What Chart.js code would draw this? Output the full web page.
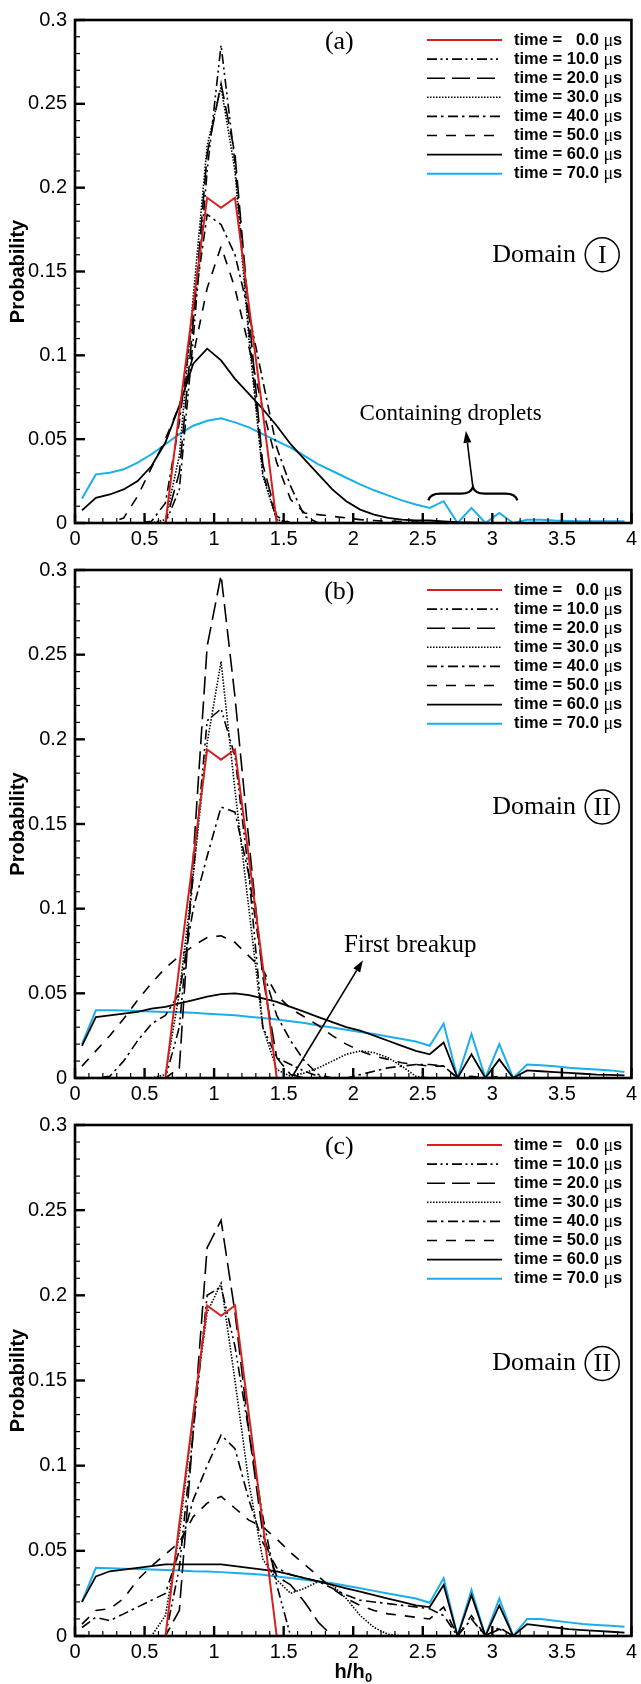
<!DOCTYPE html>
<html>
<head>
<meta charset="utf-8">
<script src="https://cdn.jsdelivr.net/npm/chart.js@4.4.0/dist/chart.umd.min.js"></script>
<style>
  html, body { margin: 0; padding: 0; background: #fff; }
  #wrap { position: relative; width: 641px; height: 1684px; }
  canvas { position: absolute; left: 0; }
</style>
</head>
<body>
<div id="wrap">
  <canvas id="chartA" width="641" height="550" style="top:0px"></canvas>
  <canvas id="chartB" width="641" height="555" style="top:550px"></canvas>
  <canvas id="chartC" width="641" height="579" style="top:1105px"></canvas>
</div>
<script>
// bin centres of h/h0
const hBins = [
  0.05, 0.15, 0.25, 0.35, 0.45, 0.55, 0.65, 0.75, 0.85, 0.95,
  1.05, 1.15, 1.25, 1.35, 1.45, 1.55, 1.65, 1.75, 1.85, 1.95,
  2.05, 2.15, 2.25, 2.35, 2.45, 2.55, 2.65, 2.75, 2.85, 2.95,
  3.05, 3.15, 3.25, 3.35, 3.45, 3.55, 3.65, 3.75, 3.85, 3.95
];
const timeLabels = ["0.0", "10.0", "20.0", "30.0", "40.0", "50.0", "60.0", "70.0"];

// time = 0 (same initial distribution in every domain)
const initialPdf = [
  0, 0, 0, 0, 0, 0, 0, 0.066, 0.13, 0.194,
  0.188, 0.194, 0.13, 0.066, 0, 0, 0, 0, 0, 0,
  0, 0, 0, 0, 0, 0, 0, 0, 0, 0,
  0, 0, 0, 0, 0, 0, 0, 0, 0, 0
];

// ---- (a) Domain I ----
const a10 = [
  0, 0, 0, 0, 0, 0, 0, 0.02, 0.11, 0.21,
  0.285, 0.215, 0.115, 0.03, 0.002, 0, 0, 0, 0, 0,
  0, 0, 0, 0, 0, 0, 0, 0, 0, 0,
  0, 0, 0, 0, 0, 0, 0, 0, 0, 0
];
const a20 = [
  0, 0, 0, 0, 0, 0, 0, 0.03, 0.12, 0.22,
  0.262, 0.22, 0.125, 0.035, 0.004, 0, 0, 0, 0, 0,
  0, 0, 0, 0, 0, 0, 0, 0, 0, 0,
  0, 0, 0, 0, 0, 0, 0, 0, 0, 0
];
const a30 = [
  0, 0, 0, 0, 0, 0, 0.002, 0.04, 0.135, 0.225,
  0.26, 0.21, 0.11, 0.028, 0.002, 0, 0, 0, 0, 0,
  0, 0, 0, 0, 0, 0, 0, 0, 0, 0,
  0, 0, 0, 0, 0, 0, 0, 0, 0, 0
];
const a40 = [
  0, 0, 0, 0, 0, 0.001, 0.012, 0.06, 0.125, 0.184,
  0.178, 0.16, 0.125, 0.085, 0.045, 0.022, 0.004, 0, 0, 0,
  0, 0, 0, 0, 0, 0, 0, 0, 0, 0,
  0, 0, 0, 0, 0, 0, 0, 0, 0, 0
];
const a50 = [
  0, 0, 0, 0.003, 0.016, 0.033, 0.05, 0.07, 0.1, 0.14,
  0.165, 0.14, 0.105, 0.068, 0.036, 0.014, 0.006, 0.005, 0.004, 0.003,
  0.002, 0.0015, 0.001, 0.0008, 0.0005, 0.0003, 0, 0, 0, 0,
  0, 0, 0, 0, 0, 0, 0, 0, 0, 0
];
const a60 = [
  0.0075, 0.015, 0.017, 0.02, 0.025, 0.034, 0.048, 0.07, 0.095, 0.104,
  0.097, 0.086, 0.077, 0.068, 0.058, 0.047, 0.038, 0.029, 0.02, 0.013,
  0.008, 0.005, 0.003, 0.002, 0.0015, 0.0015, 0.001, 0.0005, 0.0003, 0,
  0, 0, 0, 0, 0, 0, 0, 0, 0, 0
];
const a70 = [
  0.0146, 0.029, 0.03, 0.032, 0.036, 0.041, 0.047, 0.053, 0.058, 0.061,
  0.0625, 0.06, 0.057, 0.053, 0.049, 0.045, 0.04, 0.035, 0.031, 0.027,
  0.023, 0.0195, 0.0165, 0.0135, 0.011, 0.009, 0.013, 0, 0.009, 0,
  0.006, 0, 0.002, 0.002, 0.0015, 0.0012, 0.001, 0.001, 0.001, 0.001
];

// ---- (b) Domain II ----
const b10 = [
  0, 0, 0, 0, 0, 0, 0, 0.03, 0.12, 0.211,
  0.218, 0.19, 0.12, 0.03, 0.012, 0.008, 0.004, 0.001, 0, 0,
  0, 0, 0, 0, 0, 0, 0, 0, 0, 0,
  0, 0, 0, 0, 0, 0, 0, 0, 0, 0
];
const b20 = [
  0, 0, 0, 0, 0, 0, 0, 0.006, 0.13, 0.255,
  0.297, 0.225, 0.14, 0.06, 0.012, 0.002, 0, 0, 0, 0,
  0, 0, 0, 0, 0, 0, 0, 0, 0, 0,
  0, 0, 0, 0, 0, 0, 0, 0, 0, 0
];
const b30 = [
  0, 0, 0, 0, 0, 0, 0.002, 0.05, 0.12, 0.198,
  0.246, 0.17, 0.1, 0.03, 0.005, 0.001, 0.003, 0.006, 0.01, 0.014,
  0.016, 0.015, 0.012, 0.007, 0.001, 0, 0, 0, 0, 0,
  0, 0, 0, 0, 0, 0, 0, 0, 0, 0
];
const b40 = [
  0, 0, 0.001, 0.01, 0.022, 0.032, 0.037, 0.05, 0.1, 0.131,
  0.16, 0.157, 0.12, 0.064, 0.037, 0.022, 0.01, 0.002, 0, 0,
  0.002, 0.004, 0.006, 0.007, 0.008, 0.008, 0.007, 0, 0, 0,
  0, 0, 0, 0, 0, 0, 0, 0, 0, 0
];
const b50 = [
  0.007, 0.016, 0.025, 0.035, 0.046, 0.056, 0.065, 0.072, 0.078, 0.083,
  0.084, 0.08, 0.072, 0.064, 0.049, 0.041, 0.036, 0.031, 0.025, 0.02,
  0.016, 0.013, 0.011, 0.009, 0.008, 0.007, 0.007, 0, 0.001, 0,
  0.001, 0, 0, 0, 0, 0, 0, 0, 0, 0
];
const b60 = [
  0.019, 0.036, 0.037, 0.038, 0.039, 0.041, 0.042, 0.044, 0.046, 0.048,
  0.0495, 0.05, 0.049, 0.047, 0.045, 0.042, 0.039, 0.036, 0.033, 0.03,
  0.028, 0.025, 0.022, 0.019, 0.016, 0.014, 0.021, 0, 0.014, 0,
  0.011, 0, 0.0045, 0.004, 0.0035, 0.003, 0.0025, 0.002, 0.0018, 0.0015
];
const b70 = [
  0.02, 0.04, 0.04, 0.0398, 0.0395, 0.0393, 0.039, 0.0388, 0.0385, 0.038,
  0.0375, 0.037, 0.0362, 0.0355, 0.0345, 0.0335, 0.0325, 0.031, 0.0298, 0.0285,
  0.0272, 0.026, 0.0245, 0.023, 0.0215, 0.019, 0.032, 0, 0.026, 0,
  0.02, 0, 0.008, 0.0075, 0.007, 0.006, 0.0055, 0.005, 0.0045, 0.0036
];

// ---- (c) Domain II ----
const c10 = [
  0, 0, 0, 0, 0, 0, 0, 0.04, 0.12, 0.2,
  0.205, 0.17, 0.12, 0.07, 0.03, 0, 0, 0, 0, 0,
  0, 0, 0, 0, 0, 0, 0, 0, 0, 0,
  0, 0, 0, 0, 0, 0, 0, 0, 0, 0
];
const c20 = [
  0, 0, 0, 0, 0, 0, 0, 0.015, 0.12, 0.228,
  0.244, 0.19, 0.12, 0.06, 0.035, 0.03, 0.02, 0.008, 0, 0,
  0, 0, 0, 0, 0, 0, 0, 0, 0, 0,
  0, 0, 0, 0, 0, 0, 0, 0, 0, 0
];
const c30 = [
  0, 0, 0, 0, 0, 0, 0.012, 0.06, 0.13, 0.19,
  0.207, 0.15, 0.09, 0.045, 0.033, 0.025, 0.028, 0.032, 0.03, 0.022,
  0.012, 0.005, 0.001, 0, 0, 0, 0, 0, 0, 0,
  0, 0, 0, 0, 0, 0, 0, 0, 0, 0
];
const c40 = [
  0.005, 0.011, 0.009, 0.013, 0.017, 0.021, 0.025, 0.05, 0.08, 0.1,
  0.118, 0.11, 0.08, 0.055, 0.04, 0.036, 0.034, 0.032, 0.028, 0.024,
  0.021, 0.02, 0.019, 0.018, 0.017, 0.016, 0.012, 0, 0.01, 0,
  0.005, 0, 0, 0, 0, 0, 0, 0, 0, 0
];
const c50 = [
  0.007, 0.015, 0.016, 0.022, 0.033, 0.041, 0.048, 0.055, 0.07, 0.078,
  0.082, 0.075, 0.068, 0.064, 0.057, 0.049, 0.042, 0.035, 0.028, 0.022,
  0.018, 0.015, 0.013, 0.012, 0.011, 0.01, 0.017, 0, 0.012, 0,
  0.004, 0, 0, 0, 0, 0, 0, 0, 0, 0
];
const c60 = [
  0.02, 0.035, 0.038, 0.039, 0.04, 0.041, 0.042, 0.042, 0.042, 0.042,
  0.042, 0.041, 0.04, 0.039, 0.038, 0.036, 0.034, 0.032, 0.03, 0.028,
  0.026, 0.024, 0.022, 0.02, 0.018, 0.017, 0.03, 0, 0.024, 0,
  0.018, 0, 0.007, 0.006, 0.005, 0.004, 0.0035, 0.003, 0.0025, 0.002
];
const c70 = [
  0.02, 0.04, 0.0398, 0.0395, 0.0393, 0.039, 0.0388, 0.0385, 0.038, 0.0378,
  0.0375, 0.037, 0.0365, 0.036, 0.035, 0.034, 0.033, 0.032, 0.031, 0.0295,
  0.028, 0.0265, 0.025, 0.0235, 0.022, 0.0195, 0.034, 0, 0.027, 0,
  0.022, 0, 0.01, 0.01, 0.009, 0.008, 0.007, 0.0065, 0.006, 0.0055
];

const SANS = "'Liberation Sans', Arial, Helvetica, sans-serif";
const SERIF = "'Liberation Serif', 'Times New Roman', serif";
const RED = "#d61f1f";
const BLUE = "#1aaeea";

const lineStyles = [
  { color: RED, dash: [], width: 2 },
  { color: "#000", dash: [10, 3.5, 2, 3.5, 2, 4], width: 1.6 },
  { color: "#000", dash: [18, 7], width: 1.6 },
  { color: "#000", dash: [1.5, 1.5], width: 1.6 },
  { color: "#000", dash: [10, 4, 2.5, 4.5], width: 1.6 },
  { color: "#000", dash: [10, 9], width: 1.6 },
  { color: "#000", dash: [], width: 1.8 },
  { color: BLUE, dash: [], width: 2 }
];

Chart.defaults.font.family = SANS;
Chart.defaults.color = "#000";

function strokeLine(ctx, x0, y0, x1, y1, w) {
  ctx.lineWidth = w;
  ctx.beginPath();
  ctx.moveTo(x0, y0);
  ctx.lineTo(x1, y1);
  ctx.stroke();
}

function drawArrow(ctx, x0, y0, x1, y1) {
  const ang = Math.atan2(y1 - y0, x1 - x0);
  const len = 12, half = 4;
  const bx = x1 - len * Math.cos(ang), by = y1 - len * Math.sin(ang);
  strokeLine(ctx, x0, y0, bx, by, 1.6);
  ctx.beginPath();
  ctx.moveTo(x1, y1);
  ctx.lineTo(bx + half * Math.sin(ang), by - half * Math.cos(ang));
  ctx.lineTo(bx - half * Math.sin(ang), by + half * Math.cos(ang));
  ctx.closePath();
  ctx.fill();
}

// frame, inward ticks, legend and notes
const plotDecor = {
  id: "plotDecor",
  afterDatasetsDraw(chart, args, opts) {
    const { ctx, chartArea: a, scales: { x, y } } = chart;
    ctx.save();
    ctx.strokeStyle = "#000";
    ctx.fillStyle = "#000";
    ctx.setLineDash([]);

    // ticks
    const xt = x.ticks.map(t => t.value);
    xt.forEach((v, i) => {
      const px = x.getPixelForValue(v);
      strokeLine(ctx, px, a.bottom, px, a.bottom - 10, 2.4);
      if (i < xt.length - 1) {
        for (let k = 1; k < 5; k++) {
          const pm = x.getPixelForValue(v + (xt[i + 1] - v) * k / 5);
          strokeLine(ctx, pm, a.bottom, pm, a.bottom - 5, 1.2);
        }
      }
    });
    const yt = y.ticks.map(t => t.value);
    yt.forEach((v, i) => {
      const py = y.getPixelForValue(v);
      strokeLine(ctx, a.left, py, a.left + 10, py, 2.4);
      if (i < yt.length - 1) {
        for (let k = 1; k < 5; k++) {
          const pm = y.getPixelForValue(v + (yt[i + 1] - v) * k / 5);
          strokeLine(ctx, a.left, pm, a.left + 5, pm, 1.2);
        }
      }
    });

    // frame
    ctx.lineWidth = 2.6;
    ctx.strokeRect(a.left, a.top, a.right - a.left, a.bottom - a.top);

    // legend
    const lx0 = a.left + 352, lx1 = a.left + 427, tx = a.left + 439;
    const bold = `bold 16.5px ${SANS}`;
    ctx.font = bold;
    const numRight = tx + ctx.measureText("time = 10.0").width;
    const sp = ctx.measureText(" ").width;
    ctx.textBaseline = "middle";
    chart.data.datasets.forEach((ds, i) => {
      const yy = a.top + 20 + i * 19.1;
      ctx.save();
      ctx.strokeStyle = ds.borderColor;
      ctx.setLineDash(ds.borderDash);
      strokeLine(ctx, lx0, yy, lx1, yy, ds.borderWidth);
      ctx.restore();
      ctx.font = bold;
      ctx.textAlign = "left";
      ctx.fillText("time =", tx, yy);
      ctx.textAlign = "right";
      ctx.fillText(timeLabels[i], numRight, yy);
      ctx.textAlign = "left";
      ctx.font = `18px ${SERIF}`;
      ctx.fillText("\u03bc", numRight + sp, yy + 1);
      const mu = ctx.measureText("\u03bc").width;
      ctx.font = bold;
      ctx.fillText("s", numRight + sp + mu, yy);
    });

    // panel tag
    ctx.font = `26px ${SERIF}`;
    ctx.textAlign = "center";
    ctx.fillText(opts.tag, x.getPixelForValue(1.9), y.getPixelForValue(0.287));

    // Domain label with circled numeral
    const dy = y.getPixelForValue(0.16);
    ctx.textAlign = "left";
    ctx.fillText("Domain", x.getPixelForValue(3.0), dy);
    const cx = x.getPixelForValue(3.79);
    ctx.textAlign = "center";
    ctx.fillText(opts.numeral, cx, dy + 1);
    ctx.lineWidth = 1.5;
    ctx.beginPath();
    ctx.arc(cx, dy, 17, 0, Math.PI * 2);
    ctx.stroke();

    if (opts.note === "droplets") {
      ctx.font = `23px ${SERIF}`;
      ctx.fillText("Containing droplets", x.getPixelForValue(2.7), y.getPixelForValue(0.065));
      const xL = x.getPixelForValue(2.54), xR = x.getPixelForValue(3.18), xm = x.getPixelForValue(2.86);
      const yTip = y.getPixelForValue(0.0215), yFlat = y.getPixelForValue(0.0175), yEnd = y.getPixelForValue(0.0135);
      ctx.lineWidth = 2.2;
      ctx.beginPath();
      ctx.moveTo(xL, yEnd);
      ctx.quadraticCurveTo(xL + 2, yFlat, xL + 12, yFlat);
      ctx.lineTo(xm - 12, yFlat);
      ctx.quadraticCurveTo(xm - 2, yFlat, xm, yTip);
      ctx.quadraticCurveTo(xm + 2, yFlat, xm + 12, yFlat);
      ctx.lineTo(xR - 12, yFlat);
      ctx.quadraticCurveTo(xR - 2, yFlat, xR, yEnd);
      ctx.stroke();
      drawArrow(ctx, xm, yTip, x.getPixelForValue(2.81), y.getPixelForValue(0.055));
    }
    if (opts.note === "breakup") {
      ctx.font = `25px ${SERIF}`;
      ctx.fillText("First breakup", x.getPixelForValue(2.41), y.getPixelForValue(0.078));
      drawArrow(ctx, x.getPixelForValue(1.566), y.getPixelForValue(0.0015),
        x.getPixelForValue(2.07), y.getPixelForValue(0.0696));
    }

    if (opts.xTitle) {
      const mid = (a.left + a.right) / 2;
      const base = a.bottom + 42;
      ctx.textAlign = "left";
      ctx.textBaseline = "alphabetic";
      ctx.font = `bold 20px ${SANS}`;
      const w1 = ctx.measureText("h/h").width;
      ctx.font = `bold 13px ${SANS}`;
      const w2 = ctx.measureText("0").width;
      const start = mid - (w1 + w2) / 2;
      ctx.font = `bold 20px ${SANS}`;
      ctx.fillText("h/h", start, base);
      ctx.font = `bold 13px ${SANS}`;
      ctx.fillText("0", start + w1 + 0.5, base + 4);
    }
    ctx.restore();
  }
};

function makePanel(id, series, padTop, xAxisH, decor) {
  new Chart(document.getElementById(id), {
    type: "line",
    data: {
      datasets: series.map((vals, i) => ({
        label: "time = " + timeLabels[i] + " \u03bcs",
        data: hBins.map((h, k) => ({ x: h, y: vals[k] })),
        borderColor: lineStyles[i].color,
        borderDash: lineStyles[i].dash,
        borderWidth: lineStyles[i].width,
        pointRadius: 0,
        tension: 0,
        fill: false
      }))
    },
    options: {
      responsive: false,
      animation: false,
      layout: { padding: { top: padTop, right: 6, left: 0, bottom: 0 } },
      plugins: {
        legend: { display: false },
        tooltip: { enabled: false },
        plotDecor: decor
      },
      scales: {
        x: {
          type: "linear",
          min: 0,
          max: 4,
          afterFit: s => { s.height = xAxisH; },
          grid: { display: false, drawTicks: false },
          border: { display: false },
          ticks: {
            stepSize: 0.5,
            padding: 4,
            maxRotation: 0,
            autoSkip: false,
            font: { size: 20 },
            callback: v => String(v)
          }
        },
        y: {
          min: 0,
          max: 0.3,
          afterFit: s => { s.width = 75; },
          grid: { display: false, drawTicks: false },
          border: { display: false },
          ticks: {
            stepSize: 0.05,
            padding: 8,
            font: { size: 20 },
            callback: v => String(+v.toFixed(2))
          },
          title: {
            display: true,
            text: "Probability",
            font: { size: 20, weight: "bold" },
            padding: { top: 6, bottom: 0 }
          }
        }
      }
    },
    plugins: [plotDecor]
  });
}

makePanel("chartA", [initialPdf, a10, a20, a30, a40, a50, a60, a70], 12, 27,
  { tag: "(a)", numeral: "I", note: "droplets", xTitle: false });
makePanel("chartB", [initialPdf, b10, b20, b30, b40, b50, b60, b70], 17, 27,
  { tag: "(b)", numeral: "II", note: "breakup", xTitle: false });
makePanel("chartC", [initialPdf, c10, c20, c30, c40, c50, c60, c70], 20, 48,
  { tag: "(c)", numeral: "II", note: "", xTitle: true });
</script>
</body>
</html>
